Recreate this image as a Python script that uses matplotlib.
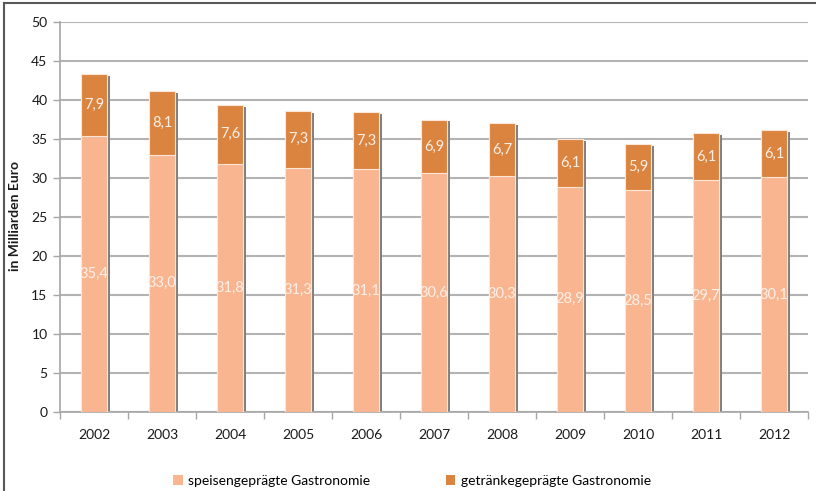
import matplotlib
matplotlib.use("Agg")
import matplotlib.pyplot as plt
from matplotlib.lines import Line2D

years = ["2002", "2003", "2004", "2005", "2006", "2007", "2008", "2009", "2010", "2011", "2012"]
speisen = [35.4, 33.0, 31.8, 31.3, 31.1, 30.6, 30.3, 28.9, 28.5, 29.7, 30.1]
getraenke = [7.9, 8.1, 7.6, 7.3, 7.3, 6.9, 6.7, 6.1, 5.9, 6.1, 6.1]
series_names = ["speisengeprägte Gastronomie", "getränkegeprägte Gastronomie"]
y_label = "in Milliarden Euro"

c_light = "#F8B590"
c_dark = "#DB843F"

plt.rcParams['font.family'] = ['Lato', 'DejaVu Sans']

fig = plt.figure(figsize=(8.16, 4.91), dpi=100)
ax = fig.add_axes([60/816, 1-412/491, 748/816, 390/491])

x = list(range(len(years)))
w = 0.39
totals = [a + b for a, b in zip(speisen, getraenke)]
# shadow
ax.bar([i + 0.045 for i in x], [t - 0.25 for t in totals], width=w, color="#7f7f7f", zorder=2)
ax.bar(x, speisen, width=w, color=c_light, edgecolor="#fde6d8", linewidth=0.8, zorder=3, label=series_names[0])
ax.bar(x, getraenke, bottom=speisen, width=w, color=c_dark, edgecolor="#fde6d8", linewidth=0.8, zorder=3, label=series_names[1])

for i in x:
    ax.text(i, speisen[i] / 2, f"{speisen[i]:.1f}".replace(".", ","), ha="center", va="center",
            color="#fdf0e8", fontsize=10.5, zorder=4)
    ax.text(i, speisen[i] + getraenke[i] / 2, f"{getraenke[i]:.1f}".replace(".", ","), ha="center", va="center",
            color="#fdf0e8", fontsize=10.5, zorder=4)

ax.set_xlim(-0.5, len(years) - 0.5)
ax.set_ylim(0, 50)
ax.set_yticks(range(0, 51, 5))
ax.set_xticks(x)
ax.set_xticklabels(years)
ax.set_xticks([i - 0.5 for i in range(len(years) + 1)], minor=True)
ax.tick_params(axis="x", which="major", length=0, pad=12, labelsize=10, labelcolor="#1a1a1a")
ax.tick_params(axis="x", which="minor", length=5, color="#a6a6a6", width=1)
ax.tick_params(axis="y", length=5, color="#a6a6a6", width=1, labelsize=10, labelcolor="#1a1a1a", pad=4)
ax.grid(axis="y", color="#b3b3b3", linewidth=1.5, zorder=0)
ax.set_axisbelow(True)
for s in ["top", "right"]:
    ax.spines[s].set_visible(False)
for s in ["left", "bottom"]:
    ax.spines[s].set_color("#a6a6a6")
    ax.spines[s].set_linewidth(1.2)

fig.text(15/816, 1 - 216/491, y_label, rotation=90, ha="center", va="center", fontsize=10, fontweight="bold", color="#1a1a1a")

# figure frame (top and left visible)
fig.add_artist(Line2D([4/816, 4/816], [0, 1 - 3/491], transform=fig.transFigure, color="#595959", linewidth=1.5))
fig.add_artist(Line2D([4/816, 1], [1 - 3/491, 1 - 3/491], transform=fig.transFigure, color="#595959", linewidth=1.5))

handles, labels = ax.get_legend_handles_labels()
leg = fig.legend(handles, labels, loc="center", bbox_to_anchor=(412/816, 1 - 481/491), ncol=2, frameon=False,
                 fontsize=10, handlelength=0.7, handleheight=0.7, handletextpad=0.4, columnspacing=5.4)
for h in leg.legend_handles:
    h.set_edgecolor("none")

fig.savefig("out.png", dpi=100)
